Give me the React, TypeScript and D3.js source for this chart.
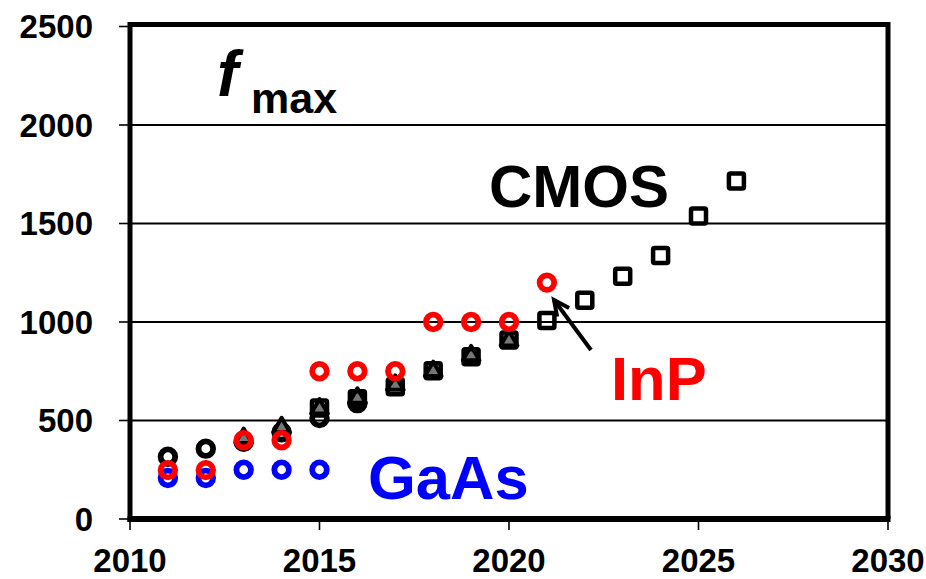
import React from "react";
import * as d3 from "d3";

// f_max by year for several semiconductor technologies
const gaasYears = [2011, 2012, 2013, 2014, 2015];
const gaasValues = [208, 208, 250, 250, 250];

const inpYears = [2011, 2012, 2013, 2014, 2015, 2016, 2017, 2018, 2019, 2020, 2021];
const inpValues = [248, 248, 400, 400, 750, 750, 750, 1000, 1000, 1000, 1200];

const cmosCircleYears = [2011, 2012, 2013, 2014, 2015, 2016];
const cmosCircleValues = [316, 357, 392, 440, 512, 588];

const cmosTriangleYears = [2013, 2014, 2015, 2016, 2017, 2018, 2019, 2020];
const cmosTriangleValues = [410, 465, 560, 615, 680, 750, 830, 905];

const cmosSquareYears = [2015, 2016, 2017, 2018, 2019, 2020, 2021, 2022, 2023, 2024, 2025, 2026];
const cmosSquareValues = [563, 611, 671, 752, 823, 908, 1008, 1110, 1232, 1337, 1538, 1716];

const xTicks = [2010, 2015, 2020, 2025, 2030];
const yTicks = [0, 500, 1000, 1500, 2000, 2500];

const FONT = "'Liberation Sans', Arial, Helvetica, sans-serif";

export default function App() {
  const W = 926;
  const H = 579;
  const left = 130;
  const right = 888;
  const top = 26.5;
  const bottom = 519;

  const x = d3.scaleLinear().domain([2010, 2030]).range([left, right]);
  const y = d3.scaleLinear().domain([0, 2500]).range([bottom, top]);

  const zip = (xs: number[], vs: number[]) => xs.map((yr, i) => ({ yr, v: vs[i] }));

  const triPath = d3.symbol().type(d3.symbolTriangle).size(120)() as string;

  const circles = (data: { yr: number; v: number }[], color: string, key: string) =>
    data.map((d) => (
      <circle
        key={key + d.yr}
        cx={x(d.yr)}
        cy={y(d.v)}
        r={7.3}
        fill="none"
        stroke={color}
        strokeWidth={5.8}
      />
    ));

  // Arrow pointing to the InP 2021 point
  const ax0 = 591, ay0 = 350, ax1 = 554, ay1 = 300;
  const ang = Math.atan2(ay1 - ay0, ax1 - ax0);
  const headLen = 17;
  const headSpread = 0.45;
  const b1 = [ax1 - headLen * Math.cos(ang - headSpread), ay1 - headLen * Math.sin(ang - headSpread)];
  const b2 = [ax1 - headLen * Math.cos(ang + headSpread), ay1 - headLen * Math.sin(ang + headSpread)];

  return (
    <svg
      width={W}
      height={H}
      style={{ position: "absolute", left: 0, top: 0, background: "#fff" }}
      fontFamily={FONT}
    >
      <rect x={0} y={0} width={W} height={H} fill="#fff" />

      {/* gridlines */}
      {yTicks
        .filter((t) => t > 0 && t < 2500)
        .map((t) => (
          <line key={"g" + t} x1={left} x2={right} y1={y(t)} y2={y(t)} stroke="#000" strokeWidth={1.8} />
        ))}

      {/* frame */}
      <line x1={left} x2={right} y1={top - 2} y2={top - 2} stroke="#000" strokeWidth={5} />
      <line x1={right} x2={right} y1={top - 4.5} y2={bottom} stroke="#000" strokeWidth={5} />
      <line x1={left} x2={left} y1={top - 4.5} y2={bottom + 3} stroke="#000" strokeWidth={5} />
      <line x1={left - 2.5} x2={right + 2.5} y1={bottom} y2={bottom} stroke="#000" strokeWidth={6} />

      {/* y ticks and labels */}
      {yTicks.map((t) => (
        <g key={"yt" + t}>
          <line x1={left - 11} x2={left} y1={y(t)} y2={y(t)} stroke="#000" strokeWidth={1.6} />
          <text
            x={93}
            y={y(t)}
            dy="0.36em"
            textAnchor="end"
            fontSize={33}
            fontWeight="bold"
            fill="#000"
          >
            {t}
          </text>
        </g>
      ))}

      {/* x ticks and labels */}
      {xTicks.map((t) => (
        <g key={"xt" + t}>
          <line x1={x(t)} x2={x(t)} y1={bottom} y2={bottom + 11} stroke="#000" strokeWidth={1.6} />
          <text x={x(t)} y={572} textAnchor="middle" fontSize={33} fontWeight="bold" fill="#000">
            {t}
          </text>
        </g>
      ))}

      {/* CMOS markers */}
      {circles(zip(cmosCircleYears, cmosCircleValues), "#000", "cc")}
      {zip(cmosTriangleYears, cmosTriangleValues).map((d) => (
        <path
          key={"ct" + d.yr}
          d={triPath}
          transform={`translate(${x(d.yr)},${y(d.v)})`}
          fill="#777"
          stroke="#000"
          strokeWidth={4}
          strokeLinejoin="round"
        />
      ))}
      {zip(cmosSquareYears, cmosSquareValues).map((d) => (
        <rect
          key={"cs" + d.yr}
          x={x(d.yr) - 7.5}
          y={y(d.v) - 7.5}
          width={15}
          height={15}
          rx={1.5}
          fill="none"
          stroke="#000"
          strokeWidth={4.5}
        />
      ))}

      {/* GaAs and InP markers */}
      {circles(zip(gaasYears, gaasValues), "#0000ff", "ga")}
      {circles(zip(inpYears, inpValues), "#ff0000", "in")}

      {/* arrow */}
      <line x1={ax0} y1={ay0} x2={ax1} y2={ay1} stroke="#000" strokeWidth={4} />
      <polyline
        points={`${b1[0]},${b1[1]} ${ax1},${ay1} ${b2[0]},${b2[1]}`}
        fill="none"
        stroke="#000"
        strokeWidth={4}
        strokeLinejoin="miter"
      />

      {/* labels */}
      <text x={217} y={96} fontSize={64} fontWeight="bold" fontStyle="italic" fill="#000">
        f
      </text>
      <text x={251} y={113} fontSize={43} fontWeight="bold" fill="#000">
        max
      </text>
      <text x={489} y={207} fontSize={60} fontWeight="bold" fill="#000">
        CMOS
      </text>
      <text x={611} y={400} fontSize={61.5} fontWeight="bold" fill="#ff0000">
        InP
      </text>
      <text x={368} y={499} fontSize={61.5} fontWeight="bold" fill="#0000ff">
        GaAs
      </text>
    </svg>
  );
}
